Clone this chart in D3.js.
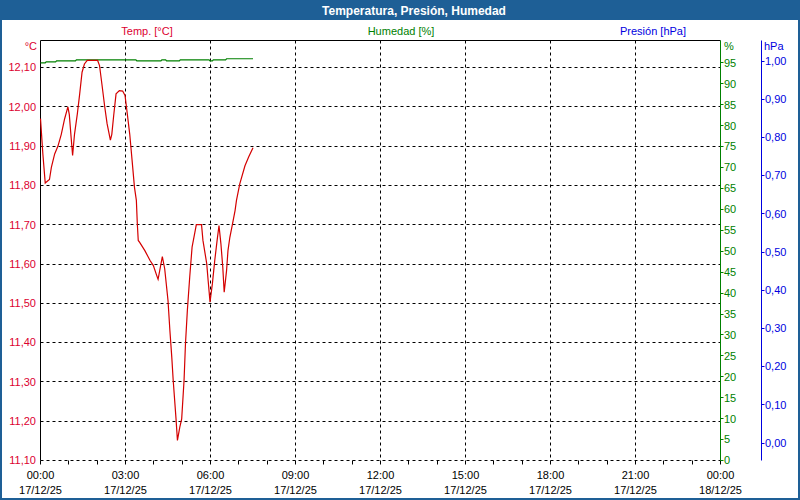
<!DOCTYPE html>
<html><head><meta charset="utf-8">
<script src="https://cdn.jsdelivr.net/npm/d3@7"></script>
<style>
html,body{margin:0;padding:0;background:#fff;}
svg{display:block;font-family:"Liberation Sans",Arial,sans-serif;}
</style></head>
<body><svg id="c" width="800" height="500"></svg>
<script>
// ---- data ----
const title = "Temperatura, Presión, Humedad";
const seriesNames = ["Temp. [°C]", "Humedad [%]", "Presión [hPa]"];
const unitNames = ["°C", "%", "hPa"];
// temperature samples: minutes after 00:00 17/12/25, value °C
const tempMinutes = [0,5,10,19,23,30,37,44,51,58,61,65,68,72,78,83,88,93,99,121,125,130,136,141,148,151,155,160,167,174,179,183,189,194,199,203,205,207,210,221,232,239,246,249,258,263,270,274,278,281,287,290,295,299,304,307,311,316,321,327,330,341,344,352,355,359,364,369,374,378,382,386,389,394,397,401,406,412,415,422,433,441,450];
const tempValues = [11.97,11.88,11.806,11.815,11.846,11.88,11.90,11.93,11.969,12.00,11.98,11.92,11.876,11.93,11.982,12.033,12.088,12.109,12.118,12.118,12.105,12.058,12.00,11.957,11.915,11.93,11.978,12.033,12.041,12.04,12.029,11.99,11.93,11.863,11.795,11.762,11.703,11.66,11.655,11.634,11.609,11.596,11.571,11.561,11.619,11.588,11.507,11.431,11.363,11.304,11.206,11.151,11.185,11.206,11.304,11.397,11.482,11.567,11.643,11.681,11.70,11.70,11.66,11.601,11.558,11.503,11.55,11.609,11.66,11.698,11.652,11.592,11.528,11.583,11.634,11.668,11.698,11.736,11.762,11.804,11.85,11.873,11.896];
const humMinutes = [0,10,12,32,34,74,76,202,204,255,257,265,267,294,296,357,359,364,366,392,394,450];
const humValues = [95.0,95.0,95.25,95.25,95.5,95.5,95.75,95.75,95.5,95.5,95.75,95.75,95.5,95.5,95.75,95.75,95.5,95.5,95.75,95.75,96.0,96.0];
const presMinutes = [];
const presValues = [];
const tempTicks = [11.1,11.2,11.3,11.4,11.5,11.6,11.7,11.8,11.9,12.0,12.1];
const humTicks = [0,5,10,15,20,25,30,35,40,45,50,55,60,65,70,75,80,85,90,95];
const presTicks = [0,0.1,0.2,0.3,0.4,0.5,0.6,0.7,0.8,0.9,1.0];
const xTickMinutes = [0,180,360,540,720,900,1080,1260,1440];
const xTickTimes = ["00:00","03:00","06:00","09:00","12:00","15:00","18:00","21:00","00:00"];
const xTickDates = ["17/12/25","17/12/25","17/12/25","17/12/25","17/12/25","17/12/25","17/12/25","17/12/25","18/12/25"];

(function () {
// ---- styles ----
const RED = "#d40000", RED_TXT = "#dc0030", GREEN = "#008000", BLUE = "#0000e0", FRAME = "#1e5f96";
const fmt = v => d3.format(".2f")(v).replace(".", ",");

const svg = d3.select("#c");
const x = d3.scaleLinear().domain([0, 1440]).range([40.5, 720.5]);
const yT = d3.scaleLinear().domain([11.1, 12.1]).range([460.5, 67.5]);
const yH = d3.scaleLinear().domain([0, 100]).range([460.5, 42]);
const yP = d3.scaleLinear().domain([0, 1]).range([443, 61]);
const snap = v => Math.round(v - 0.5) + 0.5;
const pTop = 40.5, pBottom = 460.5, pLeft = 40.5, pRight = 720.5;

// frame
svg.append("rect").attr("x", 0).attr("y", 0).attr("width", 800).attr("height", 500).attr("fill", "#fff");
svg.append("rect").attr("x", 0).attr("y", 0).attr("width", 800).attr("height", 20).attr("fill", FRAME);
svg.append("rect").attr("x", 1).attr("y", 1).attr("width", 798).attr("height", 498).attr("fill", "none").attr("stroke", FRAME).attr("stroke-width", 2);
svg.append("text").attr("x", 414).attr("y", 14.5).attr("text-anchor", "middle").attr("fill", "#fff")
  .attr("font-weight", "bold").attr("font-size", 12).text(title);

// series names
const nameX = [147, 401, 653], nameCol = [RED_TXT, GREEN, BLUE];
seriesNames.forEach((n, i) => svg.append("text").attr("x", nameX[i]).attr("y", 35).attr("text-anchor", "middle")
  .attr("fill", nameCol[i]).attr("font-size", 11).text(n));

// grid
const g = svg.append("g").attr("stroke", "#000").attr("stroke-width", 1).attr("stroke-dasharray", "3,3").attr("fill", "none");
tempTicks.forEach(t => g.append("line").attr("x1", pLeft).attr("x2", pRight).attr("y1", snap(yT(t))).attr("y2", snap(yT(t))));
xTickMinutes.slice(1, -1).forEach(m => g.append("line").attr("x1", snap(x(m))).attr("x2", snap(x(m))).attr("y1", pTop).attr("y2", pBottom));

// plot frame
svg.append("line").attr("x1", pLeft).attr("x2", pRight).attr("y1", pTop).attr("y2", pTop).attr("stroke", "#000");
svg.append("line").attr("x1", pLeft).attr("x2", pLeft).attr("y1", pTop).attr("y2", pBottom).attr("stroke", "#000");

// bottom hour ticks
d3.range(0, 1441, 60).forEach(m => svg.append("line").attr("x1", snap(x(m))).attr("x2", snap(x(m)))
  .attr("y1", pBottom).attr("y2", pBottom + 4).attr("stroke", "#000"));

// x labels
xTickMinutes.forEach((m, i) => {
  svg.append("text").attr("x", x(m)).attr("y", 479).attr("text-anchor", "middle").attr("font-size", 11).attr("fill", "#000").text(xTickTimes[i]);
  svg.append("text").attr("x", x(m)).attr("y", 494).attr("text-anchor", "middle").attr("font-size", 11).attr("fill", "#000").text(xTickDates[i]);
});

// left temp labels
tempTicks.forEach(t => svg.append("text").attr("x", 36).attr("y", yT(t)).attr("dy", "0.35em").attr("text-anchor", "end")
  .attr("font-size", 11).attr("fill", RED_TXT).text(fmt(t)));
svg.append("text").attr("x", 37).attr("y", 50).attr("text-anchor", "end").attr("font-size", 11).attr("fill", RED_TXT).text(unitNames[0]);

// humidity axis
const ga = svg.append("g");
ga.append("line").attr("x1", pRight).attr("x2", pRight).attr("y1", pTop).attr("y2", pBottom).attr("stroke", GREEN);
humTicks.forEach(h => {
  ga.append("line").attr("x1", pRight).attr("x2", pRight + 3).attr("y1", snap(yH(h))).attr("y2", snap(yH(h))).attr("stroke", GREEN);
  ga.append("text").attr("x", 724).attr("y", yH(h)).attr("dy", "0.35em").attr("font-size", 11).attr("fill", GREEN).text(h);
});
ga.append("text").attr("x", 724).attr("y", 50).attr("font-size", 11).attr("fill", GREEN).text(unitNames[1]);

// pressure axis
const pa = svg.append("g");
pa.append("line").attr("x1", 761.5).attr("x2", 761.5).attr("y1", pTop).attr("y2", pBottom).attr("stroke", BLUE);
presTicks.forEach(p => {
  pa.append("line").attr("x1", 761.5).attr("x2", 764.5).attr("y1", snap(yP(p))).attr("y2", snap(yP(p))).attr("stroke", BLUE);
  pa.append("text").attr("x", 765).attr("y", yP(p)).attr("dy", "0.35em").attr("font-size", 11).attr("fill", BLUE).text(fmt(p));
});
pa.append("text").attr("x", 764).attr("y", 50).attr("font-size", 11).attr("fill", BLUE).text(unitNames[2]);

// series
const lineT = d3.line().x(d => x(d[0])).y(d => yT(d[1]));
const lineH = d3.line().x(d => x(d[0])).y(d => yH(d[1]));
const lineP = d3.line().x(d => x(d[0])).y(d => yP(d[1]));
svg.append("path").attr("d", lineH(humMinutes.map((m, i) => [m, humValues[i]]))).attr("fill", "none").attr("stroke", GREEN).attr("stroke-width", 1.2);
if (presMinutes.length) svg.append("path").attr("d", lineP(presMinutes.map((m, i) => [m, presValues[i]]))).attr("fill", "none").attr("stroke", BLUE);
svg.append("path").attr("d", lineT(tempMinutes.map((m, i) => [m, tempValues[i]]))).attr("fill", "none").attr("stroke", RED).attr("stroke-width", 1.2);
})();
</script></body></html>
